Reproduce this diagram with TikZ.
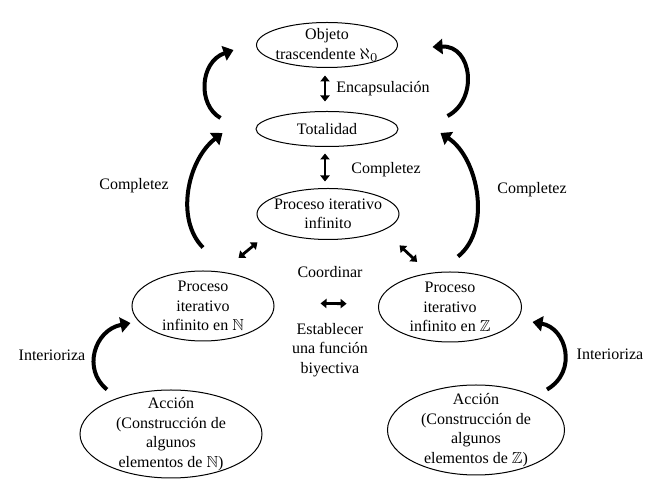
\documentclass[tikz,border=0pt]{standalone}
\usepackage{amssymb}
\usepackage{fontspec}
\setmainfont{Liberation Serif}
\usepackage{tikz}
\usetikzlibrary{shapes.geometric, arrows.meta}
\tikzstyle{stage} = [ellipse, draw=black, line width=0.5pt, inner sep=0pt]
\tikzstyle{txt} = [align=center, inner sep=0pt, font=\fontsize{8}{9.75}\selectfont]
\tikzstyle{dbl} = [line width=1.4pt, {Triangle[length=3pt,width=4.6pt]}-{Triangle[length=3pt,width=4.6pt]}]
\tikzstyle{turn} = [line width=2pt, -{Triangle[length=5pt,width=7.5pt]}]

\begin{document}
\begin{tikzpicture}[x=0.5pt, y=-0.5pt]
\useasboundingbox (0,0) rectangle (660,491);
\node (obj)[stage, minimum width=70.5pt, minimum height=22.5pt] at (327,45) {};
\node (objT)[txt] at (obj) {Objeto\\trascendente $\aleph_0$};
\node (tot)[stage, minimum width=71pt, minimum height=17.5pt] at (327,129) {};
\node (totT)[txt] at (tot) {Totalidad};
\node (pii)[stage, minimum width=71pt, minimum height=25.5pt] at (328,214) {};
\node (piiT)[txt] at (pii) {Proceso iterativo\\infinito};
\node (procN)[stage, minimum width=71pt, minimum height=35pt] at (203,306) {};
\node (procNT)[txt] at (procN) {Proceso\\iterativo\\infinito en $\mathbb{N}$};
\node (procZ)[stage, minimum width=71.5pt, minimum height=35pt] at (450,307) {};
\node (procZT)[txt] at (procZ) {Proceso\\iterativo\\infinito en $\mathbb{Z}$};
\node (accN)[stage, minimum width=91pt, minimum height=44pt] at (171,434) {};
\node (accNT)[txt] at (accN) {Acción\\(Construcción de\\algunos\\elementos de $\mathbb{N}$)};
\node (accZ)[stage, minimum width=88.5pt, minimum height=45pt] at (476,430) {};
\node (accZT)[txt] at (accZ) {Acción\\(Construcción de\\algunos\\elementos de $\mathbb{Z}$)};

\node (encL)[txt] at (383,89) {Encapsulación};
\node (comM)[txt] at (386,170) {Completez};
\node (comL)[txt] at (134,186) {Completez};
\node (comR)[txt] at (532,190) {Completez};
\node (coord)[txt] at (330,272) {Coordinar};
\node (biy)[txt] at (330,350) {Establecer\\una función\\biyectiva};
\node (intL)[txt] at (52,355) {Interioriza};
\node (intR)[txt] at (610,354) {Interioriza};

\draw [dbl, shorten <=3.75pt, shorten >=4.75pt] ([xshift=-1pt]obj.south) -- ([xshift=-1pt]tot.north);
\draw [dbl, shorten <=3.25pt, shorten >=3.25pt] ([xshift=-1pt]tot.south) -- ([xshift=-1pt]tot.south |- pii.north);
\draw [dbl, shorten <=23pt, shorten >=15.7pt] ([yshift=1.5pt]procN.east) -- ([yshift=1.5pt]procZ.west);
\draw [dbl] ([shift={(-20,10)}]pii.south west) -- ([shift={(-15,-23)}]procN.north east);
\draw [dbl] ([shift={(21,13)}]pii.south east) -- ([shift={(18,-20)}]procZ.north west);

\draw [turn] ([shift={(-35,-11)}]tot.west) .. controls +(-23,-13) and +(-34,12) .. ([shift={(-22.5,5)}]obj.west);
\draw [turn] ([shift={(0,-23)}]procN.north) .. controls +(-28,-28) and +(-35,27) .. ([shift={(-33,4)}]tot.west);
\draw [turn] ([shift={(49,-13)}]tot.east) .. controls +(31,-16) and +(40,-2) .. ([shift={(34.5,2)}]obj.east);
\draw [turn] ([shift={(8,-15)}]procZ.north) .. controls +(34,-27) and +(38,25) .. ([shift={(42,4)}]tot.east);
\draw [turn] ([shift={(-64,0)}]accN.north) .. controls +(-25,-20) and +(-36,7) .. ([shift={(-1,17)}]procN.west);
\draw [turn] ([shift={(71,5)}]accZ.north) .. controls +(31,-18) and +(34,6) .. ([shift={(10.5,15)}]procZ.east);
\end{tikzpicture}
\end{document}
